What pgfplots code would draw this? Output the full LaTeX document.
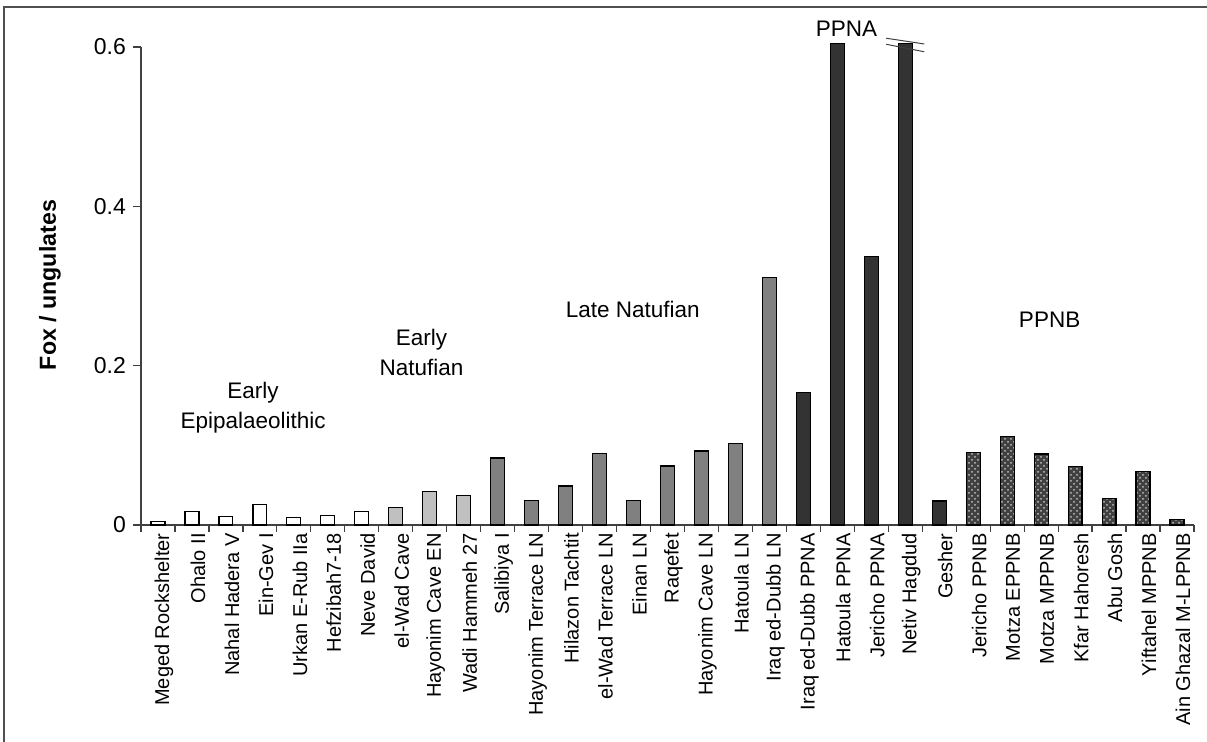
\documentclass[border=0pt]{standalone}
\usepackage{fontspec}
\setmainfont{Liberation Sans}
\usepackage{pgfplots}
\pgfplotsset{compat=1.18}
\usetikzlibrary{patterns}

\definecolor{barlight}{HTML}{C0C0C0}
\definecolor{barmid}{HTML}{808080}
\definecolor{bardark}{HTML}{333333}
\definecolor{axisgray}{HTML}{404040}
\definecolor{framegray}{HTML}{505050}

\begin{document}
\begin{tikzpicture}
\useasboundingbox (-70.5pt,-108.5pt) rectangle (533pt,262.5pt);
\draw[framegray, line width=0.7pt] (-68.5pt,-108.5pt) -- (-68.5pt,259pt) -- (533pt,259pt);
\begin{axis}[
  at={(0pt,0pt)}, anchor=south west,
  scale only axis, width=526.5pt, height=239pt,
  xmin=-0.5, xmax=30.5, ymin=0, ymax=0.6,
  clip=false,
  axis x line*=bottom, axis y line*=left,
  axis line style={axisgray, line width=0.6pt},
  tick style={axisgray, line width=0.6pt},
  tick align=outside,
  major tick length=4pt,
  minor tick length=3.5pt,
  ytick={0,0.2,0.4,0.6},
  yticklabels={0,0.2,0.4,0.6},
  yticklabel style={font=\fontsize{11.5}{13}\selectfont},
  xtick={0,...,30},
  major x tick style={draw=none},
  minor xtick={-0.5,0.5,...,30.5},
  xticklabels={Meged Rockshelter, Ohalo II, Nahal Hadera V, Ein-Gev I,
    Urkan E-Rub IIa, Hefzibah7-18, Neve David, el-Wad Cave, Hayonim Cave EN,
    Wadi Hammeh 27, Salibiya I, Hayonim Terrace LN, Hilazon Tachtit,
    el-Wad Terrace LN, Einan LN, Raqefet, Hayonim Cave LN, Hatoula LN,
    Iraq ed-Dubb LN, Iraq ed-Dubb PPNA, Hatoula PPNA, Jericho PPNA,
    Netiv Hagdud, Gesher, Jericho PPNB, Motza EPPNB, Motza MPPNB,
    Kfar Hahoresh, Abu Gosh, Yiftahel MPPNB, Ain Ghazal M-LPPNB},
  xticklabel style={rotate=90, anchor=east, inner sep=0pt, yshift=-3pt,
    font=\fontsize{10}{12}\selectfont},
  ylabel={\textbf{Fox / ungulates}},
  ylabel style={at={(axis description cs:-0.0864,0.502)}, anchor=center,
    font=\fontsize{11.6}{13}\selectfont},
  ybar, bar width=0.41, bar shift=0pt,
  every axis plot/.append style={draw=black, line width=0.6pt},
]
% Early Epipalaeolithic
\addplot[fill=white] coordinates {
  (0,0.0045) (1,0.017) (2,0.011) (3,0.026) (4,0.009) (5,0.012) (6,0.017)};
% Early Natufian
\addplot[fill=barlight] coordinates {
  (7,0.022) (8,0.042) (9,0.037)};
% Late Natufian
\addplot[fill=barmid] coordinates {
  (10,0.084) (11,0.031) (12,0.049) (13,0.090) (14,0.031) (15,0.074)
  (16,0.093) (17,0.102) (18,0.311)};
% PPNA (the two tallest bars run past the top of the scale)
\addplot[fill=bardark] coordinates {
  (19,0.166) (20,0.604) (21,0.337) (22,0.604) (23,0.030)};
% PPNB
\addplot[fill=black!75, postaction={pattern=crosshatch dots, pattern color=white!75!black}] coordinates {
  (24,0.091) (25,0.111) (26,0.089) (27,0.073) (28,0.033) (29,0.067) (30,0.0068)};

% scale break on Netiv Hagdud
\draw[axisgray, line width=0.5pt] (axis cs:21.44,0.611) -- (axis cs:22.56,0.6038);
\draw[axisgray, line width=0.5pt] (axis cs:21.44,0.6034) -- (axis cs:22.56,0.594);

% period labels
\begin{scope}[every node/.style={align=center, font=\fontsize{11.25}{15}\selectfont}]
\node at (axis cs:2.8,0.147) {Early\\Epipalaeolithic};
\node at (axis cs:7.76,0.217) {Early\\Natufian};
\node at (axis cs:13.98,0.271) {Late Natufian};
\node at (axis cs:20.27,0.6226) {PPNA};
\node at (axis cs:26.25,0.257) {PPNB};
\end{scope}
\end{axis}
\end{tikzpicture}
\end{document}
